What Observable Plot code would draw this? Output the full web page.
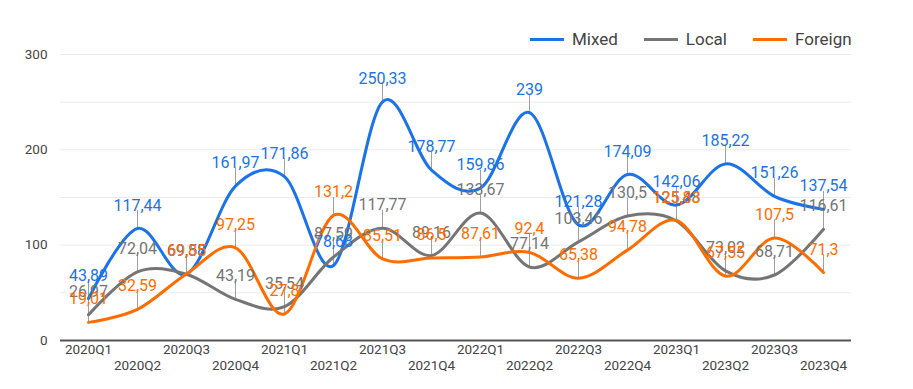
<!DOCTYPE html>
<html>
<head>
<meta charset="utf-8">
<script src="https://cdn.jsdelivr.net/npm/d3@7"></script>
<script src="https://cdn.jsdelivr.net/npm/@observablehq/plot@0.6"></script>
<style>
  body { margin: 0; background: #fff; font-family: Roboto, sans-serif; }
  #wrap { position: relative; width: 913px; height: 389px; }
  #legend { position: absolute; top: 29px; left: 530px; display: flex; align-items: center; font-size: 17px; color: #444; white-space: nowrap; }
  .item { display: flex; align-items: center; margin-right: 26px; }
  .swatch { width: 34px; height: 3px; margin-right: 8px; }
</style>
</head>
<body>
<div id="wrap"><div id="legend"></div></div>
<script>
const quarters = ["2020Q1","2020Q2","2020Q3","2020Q4","2021Q1","2021Q2","2021Q3","2021Q4","2022Q1","2022Q2","2022Q3","2022Q4","2023Q1","2023Q2","2023Q3","2023Q4"];
const seriesNames = ["Mixed", "Local", "Foreign"];
const seriesColors = ["#1a73e8", "#757575", "#ff6d01"];
const mixed = [43.89,117.44,69.58,161.97,171.86,78.68,250.33,178.77,159.86,239,121.28,174.09,142.06,185.22,151.26,137.54];
const local = [26.97,72.04,69.55,43.19,35.54,87.59,117.77,89.16,133.67,77.14,103.46,130.5,125.48,73.02,68.71,116.61];
const foreign = [19.01,32.59,69.85,97.25,27.8,131.2,85.51,86.5,87.61,92.4,65.38,94.78,125.83,67.55,107.5,71.3];
const yTicks = [0, 100, 200, 300];
const gridTicks = [50, 100, 150, 200, 250, 300];

const valuesBy = {Mixed: mixed, Local: local, Foreign: foreign};
const data = seriesNames.flatMap(s => valuesBy[s].map((v, i) => ({q: quarters[i], v, s})));
const fmt = v => String(v).replace(".", ",");
const labelOrder = ["Local", "Mixed", "Foreign"];

const chart = Plot.plot({
  width: 913,
  height: 389,
  marginLeft: 60,
  marginRight: 62,
  marginTop: 54,
  marginBottom: 49,
  style: {fontFamily: "Roboto, sans-serif", background: "transparent"},
  x: {type: "point", domain: quarters, padding: 0.54, axis: null},
  y: {domain: [0, 300], axis: null},
  color: {domain: seriesNames, range: seriesColors},
  marks: [
    Plot.ruleY(gridTicks, {stroke: "#ebebeb", strokeWidth: 1}),
    Plot.axisY(yTicks, {tickSize: 0, tickPadding: 13, fontSize: 13.5, color: "#444", label: null}),
    Plot.axisX(quarters.filter((d, i) => i % 2 === 0), {tickSize: 0, tickPadding: 4, fontSize: 13.5, color: "#444", label: null}),
    Plot.axisX(quarters.filter((d, i) => i % 2 === 1), {tickSize: 0, tickPadding: 20, fontSize: 13.5, color: "#444", label: null}),
    Plot.ruleX(data, {x: "q", y1: "v", y2: "v", insetBottom: 18, stroke: "#a0a0a0", strokeWidth: 1}),
    ...seriesNames.map(s => Plot.lineY(data.filter(d => d.s === s), {x: "q", y: "v", stroke: "s", curve: "cardinal", strokeWidth: 3})),
    Plot.ruleY([0], {stroke: "#555", strokeWidth: 2}),
    ...labelOrder.map(s => Plot.text(data.filter(d => d.s === s), {x: "q", y: "v", text: d => fmt(d.v), fill: "s", dy: -18, lineAnchor: "bottom", fontSize: 16}))
  ]
});
document.getElementById("wrap").prepend(chart);

const legend = document.getElementById("legend");
seriesNames.forEach((s, i) => {
  const item = document.createElement("div");
  item.className = "item";
  const sw = document.createElement("div");
  sw.className = "swatch";
  sw.style.background = seriesColors[i];
  const t = document.createElement("span");
  t.textContent = s;
  item.append(sw, t);
  legend.append(item);
});
</script>
</body>
</html>
